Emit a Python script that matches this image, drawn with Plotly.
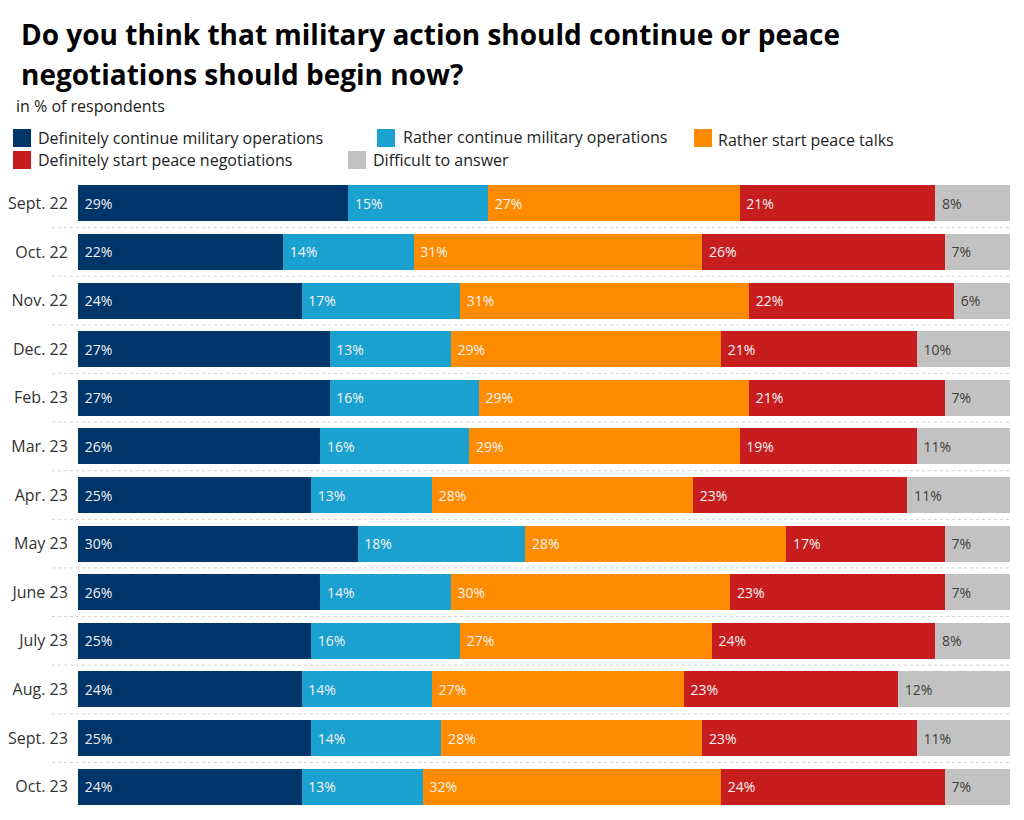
import plotly.graph_objects as go

months = ["Sept. 22", "Oct. 22", "Nov. 22", "Dec. 22", "Feb. 23", "Mar. 23", "Apr. 23",
          "May 23", "June 23", "July 23", "Aug. 23", "Sept. 23", "Oct. 23"]

def_continue = [29, 22, 24, 27, 27, 26, 25, 30, 26, 25, 24, 25, 24]
rather_continue = [15, 14, 17, 13, 16, 16, 13, 18, 14, 16, 14, 14, 13]
rather_peace = [27, 31, 31, 29, 29, 29, 28, 28, 30, 27, 27, 28, 32]
def_peace = [21, 26, 22, 21, 21, 19, 23, 17, 23, 24, 23, 23, 24]
difficult = [8, 7, 6, 10, 7, 11, 11, 7, 7, 8, 12, 11, 7]

series_names = ["Definitely continue military operations", "Rather continue military operations",
                "Rather start peace talks", "Definitely start peace negotiations", "Difficult to answer"]
series_values = [def_continue, rather_continue, rather_peace, def_peace, difficult]
series_colors = ["#00356A", "#1BA1D0", "#FF8C00", "#C81D1F", "#C2C2C2"]
text_colors = ["#F2F2F2", "#F2F2F2", "#F2F2F2", "#F2F2F2", "#404040"]

FONT = "Open Sans"

# page offset (browser body margin)
OFF = 8
W_FIG, H_FIG = 1024 - 2 * OFF, 820 - 2 * OFF
# plot area in page pixels
L, R, T, B = 78, 1010, 179, 811
PW, PH = R - L, B - T

def px2x(px):
    return (px - L) / PW

def py2y(py):
    return (B - py) / PH

fig = go.Figure()
for name, vals, col, tcol in zip(series_names, series_values, series_colors, text_colors):
    fig.add_trace(go.Bar(
        y=months, x=vals, name=name, orientation="h",
        marker=dict(color=col, line=dict(width=0)),
        text=[f" {v}%" for v in vals], textposition="inside", insidetextanchor="start",
        textfont=dict(family=FONT, size=14, color=tcol),
        textangle=0, constraintext="none",
        showlegend=False, hoverinfo="x+name",
    ))

shapes = []
for i in range(len(months) - 1):
    shapes.append(dict(type="line", xref="paper", yref="y",
                       x0=px2x(52), x1=px2x(1010), y0=i + 0.5, y1=i + 0.5,
                       line=dict(color="#D2D2D2", width=1, dash="dot")))

annotations = []
annotations.append(dict(text="<b>Do you think that military action should continue or peace</b>",
                        xref="paper", yref="paper", x=px2x(19), y=py2y(34),
                        xanchor="left", yanchor="middle", showarrow=False,
                        font=dict(family=FONT, size=28, color="#000000")))
annotations.append(dict(text="<b>negotiations should begin now?</b>",
                        xref="paper", yref="paper", x=px2x(19), y=py2y(74),
                        xanchor="left", yanchor="middle", showarrow=False,
                        font=dict(family=FONT, size=28, color="#000000")))
annotations.append(dict(text="in % of respondents",
                        xref="paper", yref="paper", x=px2x(14), y=py2y(106),
                        xanchor="left", yanchor="middle", showarrow=False,
                        font=dict(family=FONT, size=16, color="#222222")))

legend_pos = [(13, 129, 36, 138), (377, 129, 401, 137), (694, 129, 716, 140),
              (13, 151, 36, 160), (348, 151, 371, 160)]
for name, col, (bx, by, tx, ty) in zip(series_names, series_colors, legend_pos):
    shapes.append(dict(type="rect", xref="paper", yref="paper",
                       x0=px2x(bx), x1=px2x(bx + 18), y0=py2y(by), y1=py2y(by + 18),
                       fillcolor=col, line=dict(width=0)))
    annotations.append(dict(text=name, xref="paper", yref="paper", x=px2x(tx), y=py2y(ty),
                            xanchor="left", yanchor="middle", showarrow=False,
                            font=dict(family=FONT, size=16, color="#222222")))

fig.update_layout(
    width=W_FIG, height=H_FIG,
    margin=dict(l=L - OFF, r=(1024 - OFF) - R, t=T - OFF, b=(820 - OFF) - B, pad=0),
    barmode="stack", bargap=0.26,
    paper_bgcolor="white", plot_bgcolor="white",
    xaxis=dict(range=[0, 100], visible=False, fixedrange=True),
    yaxis=dict(autorange="reversed", showgrid=False, zeroline=False, showline=False,
               ticks="outside", ticklen=6, tickcolor="rgba(0,0,0,0)",
               tickfont=dict(family=FONT, size=16, color="#333333")),
    shapes=shapes, annotations=annotations,
)

fig.write_html("out.html")
